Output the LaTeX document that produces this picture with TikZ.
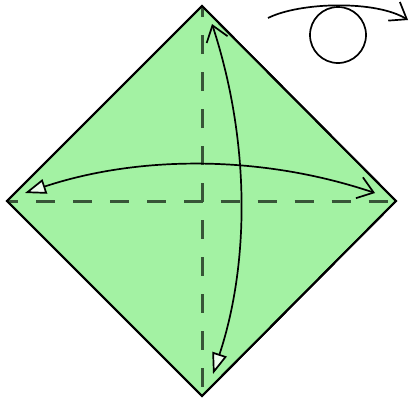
\documentclass[tikz,border=0pt]{standalone}
\usetikzlibrary{arrows.meta}
\definecolor{paper}{RGB}{163,242,163}
\definecolor{crease}{RGB}{55,85,55}
\tikzset{
  outline/.style={draw=black, line width=2pt, line join=miter, fill=paper},
  creaseline/.style={draw=crease, line width=3pt, dash pattern=on 19pt off 18pt},
  foldarrow/.style={draw=black, line width=1.7pt},
  hollowtip/.tip={Triangle[length=21pt, width=15pt, fill=white!80!paper, line width=1.7pt]},
  barbtip/.tip={Straight Barb[length=15pt, width=22pt, line width=1.7pt]},
}
\begin{document}
\begin{tikzpicture}[x=1pt,y=-1pt]
\useasboundingbox (0,0) rectangle (411,400);
\coordinate (T) at (202,6);
\coordinate (L) at (7,201);
\coordinate (R) at (396,201);
\coordinate (B) at (202,396);
\path[outline] (T) -- (R) -- (B) -- (L) -- cycle;
\draw[creaseline, dash phase=9.5pt] (202,192.5) -- (202,6);
\draw[creaseline, dash phase=9.5pt] (202,192.5) -- (202,396);
\draw[creaseline, dash phase=9.5pt] (193,201) -- (7,201);
\draw[creaseline, dash phase=9.5pt] (193,201) -- (396,201);
\path[draw=black, line width=2pt] (T) -- (R) -- (B) -- (L) -- cycle;
% horizontal valley fold arrow
\coordinate (h1) at (25,193);
\coordinate (h2) at (375,193);
\draw[foldarrow, {hollowtip}-{barbtip}] (h1) .. controls (140,155) and (262,155) .. (h2);
% vertical valley fold arrow
\coordinate (v1) at (212,24);
\coordinate (v2) at (213,374);
\draw[foldarrow, {barbtip}-{hollowtip}] (v1) .. controls (250,140) and (250,262) .. (v2);
% turn over symbol
\coordinate (m1) at (268,18);
\coordinate (m2) at (408,20);
\coordinate (mc) at (338,35);
\draw[foldarrow] (mc) circle[radius=28];
\draw[foldarrow, -{barbtip}] (m1) .. controls (300,2) and (376,0) .. (m2);
\end{tikzpicture}
\end{document}
